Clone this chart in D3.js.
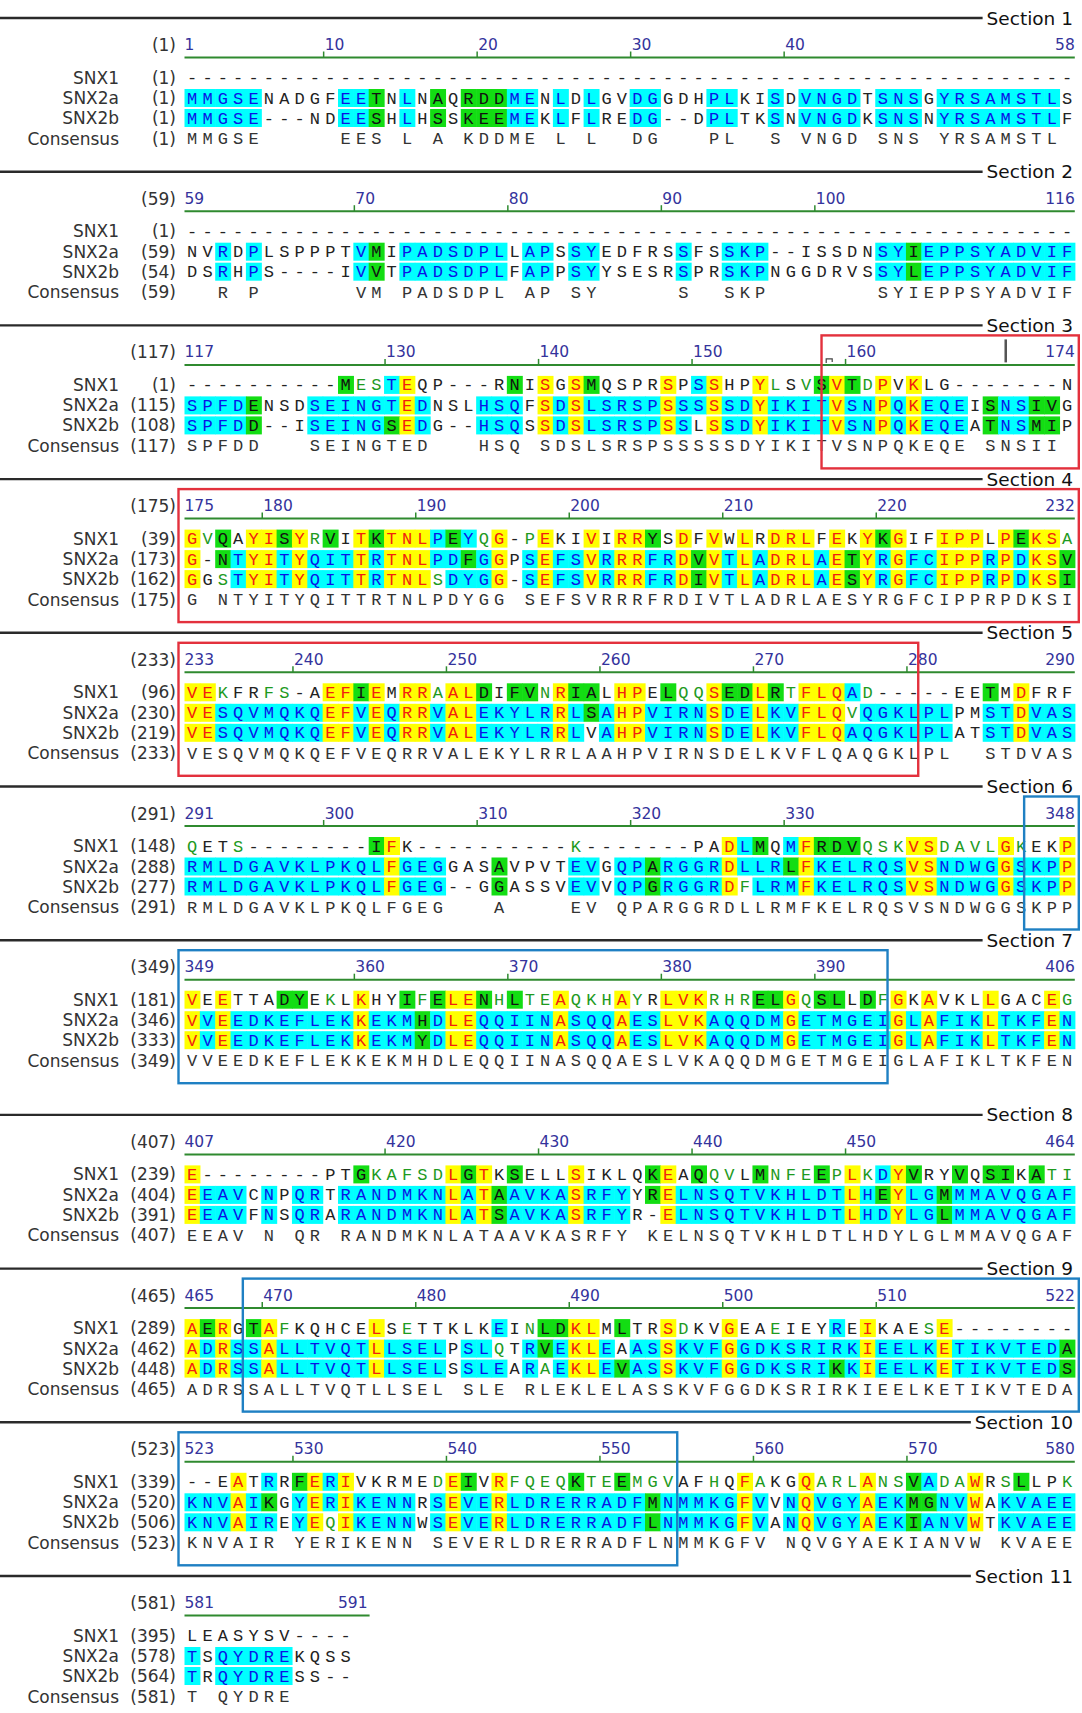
<!DOCTYPE html>
<html>
<head>
<meta charset="utf-8">
<script src="https://cdn.jsdelivr.net/npm/d3@7"></script>
<style>
  body { margin: 0; background: #fff; }
  svg { display: block; }
</style>
</head>
<body>
<svg id="chart" width="1082" height="1713"></svg>
<script>
// ---------------------------------------------------------------
// Multiple alignment of SNX1, SNX2a and SNX2b (AlignX style)
// ---------------------------------------------------------------

// First alignment position of each section
const sectionStarts = [1, 59, 117, 175, 233, 291, 349, 407, 465, 523, 581];

// Ruler labels shown above each section
const tickLabels = [
  [1, 10, 20, 30, 40, 58],
  [59, 70, 80, 90, 100, 116],
  [117, 130, 140, 150, 160, 174],
  [175, 180, 190, 200, 210, 220, 232],
  [233, 240, 250, 260, 270, 280, 290],
  [291, 300, 310, 320, 330, 348],
  [349, 360, 370, 380, 390, 406],
  [407, 420, 430, 440, 450, 464],
  [465, 470, 480, 490, 500, 510, 522],
  [523, 530, 540, 550, 560, 570, 580],
  [581, 591]
];

const seqNames = ["SNX1", "SNX2a", "SNX2b"];

// Residue number of the first residue of each row, per section
const snx1Starts  = [1, 1, 1, 39, 96, 148, 181, 239, 289, 339, 395];
const snx2aStarts = [1, 59, 115, 173, 230, 288, 346, 404, 462, 520, 578];
const snx2bStarts = [1, 54, 108, 162, 219, 277, 333, 391, 448, 506, 564];

// Aligned sequences, one string per section
const snx1Rows = [
  "----------------------------------------------------------",
  "----------------------------------------------------------",
  "----------MESTEQP---RNISGSMQSPRSPSSHPYLSVSVTDPVKLG-------N",
  "GVQAYISYRVITKTNLPEYQG-PEKIVIRRYSDFVWLRDRLFEKYKGIFIPPLPEKSA",
  "VEKFRFS-AEFIEMRRAALDIFVNRIALHPELQQSEDLRTFLQAD-----EETMDFRF",
  "QETS--------IFK----------K-------PADLMQMFRDVQSKVSDAVLGKEKP",
  "VEETTADYEKLKHYIFELENHLTEAQKHAYRLVKRHRELGQSLLDFGKAVKLLGACEG",
  "E--------PTGKAFSDLGTKSELLSIKLQKEAQQVLMNFEEPLKDYVRYVQSIKATI",
  "AERGTAFKQHCELSETTKLKEINLDKLMLTRSDKVGEAEIEYREIKAESE--------",
  "--EATRRFERIVKRMEDEIVRFQEQKTEEMGVAFHQFAKGQARLANSVADAWRSLLPK",
  "LEASYSV----"
];
const snx2aRows = [
  "MMGSENADGFEETNLNAQRDDMENLDLGVDGGDHPLKISDVNGDTSNSGYRSAMSTLS",
  "NVRDPLSPPPTVMIPADSDPLLAPSSYEDFRSSFSSKP--ISSDNSYIEPPSYADVIF",
  "SPFDENSDSEINGTEDNSLHSQFSDSLSRSPSSSSSDYIKITVSNPQKEQEISNSIVG",
  "G-NTYITYQITTRTNLPDFGGPSEFSVRRRFRDVVTLADRLAETYRGFCIPPRPDKSV",
  "VESQVMQKQEFVEQRRVALEKYLRRLSAHPVIRNSDELKVFLQVQGKLPLPMSTDVAS",
  "RMLDGAVKLPKQLFGEGGASAVPVTEVGQPARGGRDLLRLFKELRQSVSNDWGGSKPP",
  "VVEEDKEFLEKKEKMHDLEQQIINASQQAESLVKAQQDMGETMGEIGLAFIKLTKFEN",
  "EEAVCNPQRTRANDMKNLATAAVKASRFYYRELNSQTVKHLDTLHEYLGMMMAVQGAF",
  "ADRSSALLTVQTLLSELPSLQTRVEKLEAASSKVFGGDKSRIRKIEELKETIKVTEDA",
  "KNVAIKGYERIKENNRSEVERLDRERRADFMNMMKGFVVNQVGYAEKMGNVWAKVAEE",
  "TSQYDREKQSS"
];
const snx2bRows = [
  "MMGSE---NDEESHLHSSKEEMEKLFLREDG--DPLTKSNVNGDKSNSNYRSAMSTLF",
  "DSRHPS----IVVTPADSDPLFAPPSYYSESRSPRSKPNGGDRVSSYLEPPSYADVIF",
  "SPFDD--ISEINGSEDG--HSQSSDSLSRSPSSLSSDYIKITVSNPQKEQEATNSMIP",
  "GGSTYITYQITTRTNLSDYGG-SEFSVRRRFRDIVTLADRLAESYRGFCIPPRPDKSI",
  "VESQVMQKQEFVEQRRVALEKYLRRLVAHPVIRNSDELKVFLQAQGKLPLATSTDVAS",
  "RMLDGAVKLPKQLFGEG--GGASSVEVVQPGRGGRDFLRMFKELRQSVSNDWGGSKPP",
  "VVEEDKEFLEKKEKMYDLEQQIINASQQAESLVKAQQDMGETMGEIGLAFIKLTKFEN",
  "EEAVFNSQRARANDMKNLATSAVKASRFYR-ELNSQTVKHLDTLHDYLGLMMAVQGAF",
  "ADRSSALLTVQTLLSELSSLEARAEKLEVASSKVFGGDKSRIKKIEELKETIKVTEDS",
  "KNVAIREYEQIKENNWSEVERLDRERRADFLNMMKGFVANQVGYAEKIANVWTKVAEE",
  "TRQYDRESS--"
];
const consensusRows = [
  "MMGSE     EES L A KDDME L L  DG   PL  S VNGD SNS YRSAMSTL ",
  "  R P      VM PADSDPL AP SY     S  SKP       SYIEPPSYADVIF",
  "SPFDD   SEINGTED   HSQ SDSLSRSPSSSSSDYIKITVSNPQKEQE SNSII ",
  "G NTYITYQITTRTNLPDYGG SEFSVRRRFRDIVTLADRLAESYRGFCIPPRPDKSI",
  "VESQVMQKQEFVEQRRVALEKYLRRLAAHPVIRNSDELKVFLQAQGKLPL  STDVAS",
  "RMLDGAVKLPKQLFGEG   A    EV QPARGGRDLLRMFKELRQSVSNDWGGSKPP",
  "VVEEDKEFLEKKEKMHDLEQQIINASQQAESLVKAQQDMGETMGEIGLAFIKLTKFEN",
  "EEAV N QR RANDMKNLATAAVKASRFY KELNSQTVKHLDTLHDYLGLMMAVQGAF",
  "ADRSSALLTVQTLLSEL SLE RLEKLELASSKVFGGDKSRIRKIEELKETIKVTEDA",
  "KNVAIR YERIKENN SEVERLDRERRADFLNMMKGFV NQVGYAEKIANVW KVAEE",
  "T QYDRE    "
];

// Residue classes: y = identical in all, c = majority residue,
// g = block of similar residues, t = weakly similar, . = non-similar
const snx1Shade = [
  ["..........", "..........", "..........", "..........", "..........", "........"],
  ["..........", "..........", "..........", "..........", "..........", "........"],
  ["..........", "gttcy.....", ".g.y.yg...", ".y.cy..yt.", "tgygty.y..", "........"],
  ["ytg.yygytg", ".ygyyycgct", "y.ty..y.yy", "g.y.y.y.yy", "y.y.ygy..y", "yy.ygyyt"],
  ["yyt..tt..y", "ygy.yytyyg", ".ggtygg.yy", ".gttyggygt", "yyyct.....", "..g.y..."],
  ["t..t......", "..gy......", ".....t....", ".....ycg.c", "ygggtttyyt", "tttyt..y"],
  ["y.y...gg.t", ".y..gtgyyg", "tgttytttyt", ".yyytttggy", "tgg.gty.y.", "..y...yt"],
  ["y.........", ".gtttttygy", ".g...y....", "gy.gtt.gtt", "tgtytcyg..", "g.gg.gtt"],
  ["ygy.gyt...", "..y.t.....", "c.tggyy.g.", ".yt..y..t.", "..c.y...ty", "........"],
  ["...y.c.gyc", "y.....tyg.", "yttttgttgt", "tt..t.yt..", "ytttyttgct", "ty.tg..t"],
  ["..........."]
];
const snx2aShade = [
  ["ccccc.....", "ccg.c.g.gg", "gcc.c.c..c", "c...cc..c.", "cccc.ccc.c", "ccccccc."],
  ["..c.c.....", ".cg.cccccc", "c.cc.cc...", "..c..ccc..", ".....ccgcc", "cccccccc"],
  ["ccccg...cc", "ccccyc...c", "cc.ycycccc", "cyccyccycc", "ccyccycycc", "c.gccgg."],
  ["y.gcyycycc", "cycyyyccgc", "y.cyccycyy", "ccygycycyy", "ycygycyccy", "yycycyyg"],
  ["yycccccccy", "ycycyycyyc", "ccccycgcyy", "ccccyccycc", "yyytcccccc", "..ccyccc"],
  ["cccccccccc", "cccyccc...", "g....cc.cc", "gccccycccg", "yccccccyyc", "cccycccy"],
  ["ycyccccccc", "cycccgcyyc", "ccccycccyc", "cyyycccccy", "ccccccycyc", "ccycccyc"],
  ["yccc.c.cc.", "cccccccycy", "gccccyccc.", "gycccccccc", "cccycgyccg", "cccccccc"],
  ["ycyccycccc", "ccycccc.cc", "t.cgcyyc.c", "cycccycccc", "ccccyccccy", "cccccccg"],
  ["cccycg.cyc", "ycccc.cycc", "yccccccccc", "gcccccyc.c", "ycccyccggc", "cy.ccccc"],
  ["c.ccccc...."]
];
const snx2bShade = [
  ["ccccc.....", "ccg.c.g.gg", "gcc.c.c..c", "c...cc..c.", "cccc.ccc.c", "ccccccc."],
  ["..c.c.....", ".cg.cccccc", "c.cc.cc...", "..c..ccc..", ".....ccgcc", "cccccccc"],
  ["ccccg...cc", "cccgyc...c", "cc.ycycccc", "cyc.yccycc", "ccyccycycc", "c.gccgg."],
  ["y.tcyycycc", "cycyyytccc", "y.cyccycyy", "ccygycycyy", "ycygycyccy", "yycycyyg"],
  ["yycccccccy", "ycycyycyyc", "ccccyc.cyy", "ccccyccycc", "yyyccccccc", "..ccyccc"],
  ["cccccccccc", "cccyccc...", "g....cc.cc", "gccccytccc", "yccccccyyc", "cccycccy"],
  ["ycyccccccc", "cycccgcyyc", "ccccycccyc", "cyyycccccy", "ccccccycyc", "ccycccyc"],
  ["yccc.c.cc.", "cccccccycy", "gccccyccc.", ".ycccccccc", "cccyccyccg", "cccccccc"],
  ["ycyccycccc", "ccycccc.cc", "c.ctcyycgc", "cycccycccc", "ccgcyccccy", "cccccccg"],
  ["cccycc.cyt", "ycccc.cycc", "yccccccccc", "gcccccyc.c", "ycccyccgcc", "cy.ccccc"],
  ["c.ccccc...."]
];

// Outlined regions, in alignment columns (0-based, fractional)
const regions = [
  { from: 157.5, to: 279.8, color: "#e3313d" },
  { from: 344.7, to: 393.8, color: "#1f80c3" },
  { from: 467.8, to: 554.1, color: "#1f80c3" }
];

// ---------------------------------------------------------------
const COLS = 58;
const tracks = [
  { name: "SNX1",  rows: snx1Rows,  shade: snx1Shade,  starts: snx1Starts },
  { name: "SNX2a", rows: snx2aRows, shade: snx2aShade, starts: snx2aStarts },
  { name: "SNX2b", rows: snx2bRows, shade: snx2bShade, starts: snx2bStarts }
];

const colX = d3.scaleLinear().domain([0, COLS]).range([184.5, 184.5 + COLS * 15.35]);
const CW = colX(1) - colX(0);

// vertical placement of sections (an extra gap follows section 7)
const secBase = d3.scaleLinear().domain([0, 1]).range([18, 171.7]);
const secY = i => secBase(i) + (i >= 7 ? 21 : 0);

const rowY = d3.scaleOrdinal()
  .domain(["ruler", "rulerLine", "SNX1", "SNX2a", "SNX2b", "Consensus"])
  .range([27, 39.5, 59.5, 80, 100, 120.5]);

const shadeFill = d3.scaleOrdinal().domain(["y", "c", "g"]).range(["#ffff00", "#00ffff", "#13dd13"]);
const letterFill = d3.scaleOrdinal()
  .domain(["y", "c", "g", "t", "."])
  .range(["#f2200f", "#0a14e6", "#111111", "#1e9a1e", "#222222"]);

const LABEL_FONT = "'DejaVu Sans', 'Liberation Sans', sans-serif";
const SEQ_FONT = "'Liberation Mono', 'DejaVu Sans Mono', monospace";

const svg = d3.select("#chart");
svg.append("rect").attr("width", 1082).attr("height", 1713).attr("fill", "#fff");

sectionStarts.forEach((start, s) => {
  const n = consensusRows[s].length;
  const g = svg.append("g").attr("transform", `translate(0,${secY(s)})`);

  // section rule with title
  const title = g.append("text")
    .attr("x", 1073).attr("y", 0)
    .attr("text-anchor", "end").attr("dominant-baseline", "central")
    .attr("font-family", LABEL_FONT).attr("font-size", 18.5)
    .attr("fill", "#111")
    .text(`Section ${s + 1}`);
  const tw = title.node().getComputedTextLength();
  g.append("line")
    .attr("x1", 0).attr("x2", 1073 - tw - 4)
    .attr("y1", 0).attr("y2", 0)
    .attr("stroke", "#2a2a2a").attr("stroke-width", 2.4);

  // ruler
  g.append("text")
    .attr("x", 176).attr("y", rowY("ruler"))
    .attr("text-anchor", "end").attr("dominant-baseline", "central")
    .attr("font-family", LABEL_FONT).attr("font-size", 17).attr("fill", "#333")
    .text(`(${start})`);

  let rulerEnd = colX(n);
  const labels = tickLabels[s];
  labels.forEach((v, k) => {
    const idx = v - start;
    const t = g.append("text")
      .attr("y", rowY("ruler"))
      .attr("dominant-baseline", "central")
      .attr("font-family", LABEL_FONT).attr("font-size", 15.5)
      .attr("fill", "#34339c")
      .text(v);
    if (k === 0) {
      t.attr("x", colX(0)).attr("text-anchor", "start");
    } else if (k === labels.length - 1) {
      if (n === COLS) {
        t.attr("x", colX(n)).attr("text-anchor", "end");
      } else {
        t.attr("x", colX(idx)).attr("text-anchor", "start");
        rulerEnd = Math.max(rulerEnd, colX(idx) + t.node().getComputedTextLength() + 2);
      }
    } else {
      t.attr("x", colX(idx) + 2).attr("text-anchor", "start");
      g.append("line")
        .attr("x1", colX(idx) + 1).attr("x2", colX(idx) + 1)
        .attr("y1", rowY("rulerLine") - 6).attr("y2", rowY("rulerLine"))
        .attr("stroke", "#2f8a2f").attr("stroke-width", 1.5);
    }
  });
  g.append("line")
    .attr("x1", colX(0)).attr("x2", rulerEnd)
    .attr("y1", rowY("rulerLine")).attr("y2", rowY("rulerLine"))
    .attr("stroke", "#2f8a2f").attr("stroke-width", 2);

  // sequence rows
  const rowsData = tracks.map(tr => ({
    name: tr.name,
    seq: tr.rows[s],
    shade: tr.shade[s].join(""),
    start: tr.starts[s]
  }));

  rowsData.forEach(r => {
    const y = rowY(r.name);
    const cells = Array.from(r.seq, (ch, i) => ({ ch, i, cls: r.shade[i] || "." }));

    g.append("text")
      .attr("x", 119).attr("y", y)
      .attr("text-anchor", "end").attr("dominant-baseline", "central")
      .attr("font-family", LABEL_FONT).attr("font-size", 17).attr("fill", "#333")
      .text(r.name);
    g.append("text")
      .attr("x", 176).attr("y", y)
      .attr("text-anchor", "end").attr("dominant-baseline", "central")
      .attr("font-family", LABEL_FONT).attr("font-size", 17).attr("fill", "#333")
      .text(`(${r.start})`);

    g.selectAll(null)
      .data(cells.filter(d => d.cls === "y" || d.cls === "c" || d.cls === "g"))
      .join("rect")
      .attr("x", d => colX(d.i))
      .attr("y", y - 9)
      .attr("width", CW + 0.6)
      .attr("height", 18)
      .attr("fill", d => shadeFill(d.cls));

    g.selectAll(null)
      .data(cells)
      .join("text")
      .attr("x", d => colX(d.i + 0.5))
      .attr("y", y + 1)
      .attr("text-anchor", "middle").attr("dominant-baseline", "central")
      .attr("font-family", SEQ_FONT).attr("font-size", 17)
      .attr("fill", d => letterFill(d.cls))
      .text(d => d.ch);
  });

  // consensus row
  const cy = rowY("Consensus");
  g.append("text")
    .attr("x", 119).attr("y", cy)
    .attr("text-anchor", "end").attr("dominant-baseline", "central")
    .attr("font-family", LABEL_FONT).attr("font-size", 17).attr("fill", "#333")
    .text("Consensus");
  g.append("text")
    .attr("x", 176).attr("y", cy)
    .attr("text-anchor", "end").attr("dominant-baseline", "central")
    .attr("font-family", LABEL_FONT).attr("font-size", 17).attr("fill", "#333")
    .text(`(${start})`);
  g.selectAll(null)
    .data(Array.from(consensusRows[s], (ch, i) => ({ ch, i })).filter(d => d.ch !== " "))
    .join("text")
    .attr("x", d => colX(d.i + 0.5))
    .attr("y", cy + 1)
    .attr("text-anchor", "middle").attr("dominant-baseline", "central")
    .attr("font-family", SEQ_FONT).attr("font-size", 17)
    .attr("fill", "#333")
    .text(d => d.ch);

  // cursor marks left in section 3
  if (start === 117) {
    const cx = colX(170 - start + 0.5);
    g.append("line")
      .attr("x1", cx).attr("x2", cx)
      .attr("y1", 14).attr("y2", 37)
      .attr("stroke", "#555").attr("stroke-width", 2.5);
    const bx = colX(159 - start) - 3;
    g.append("path")
      .attr("d", `M${bx},${rowY("rulerLine") - 2} v-4 h6 v3`)
      .attr("fill", "none").attr("stroke", "#444").attr("stroke-width", 1.2);
  }

  // outlined regions
  const u0 = start - 1, u1 = u0 + n;
  regions.forEach(rg => {
    if (rg.to <= u0 || rg.from >= u1) return;
    const left = rg.from > u0 ? colX(rg.from - u0) : colX(0) - 6;
    const right = rg.to < u1 ? colX(rg.to - u0) : colX(COLS) + 4;
    g.append("rect")
      .attr("x", left).attr("y", 10)
      .attr("width", right - left).attr("height", 133)
      .attr("fill", "none")
      .attr("stroke", rg.color).attr("stroke-width", 2.4);
  });
});
</script>
</body>
</html>
